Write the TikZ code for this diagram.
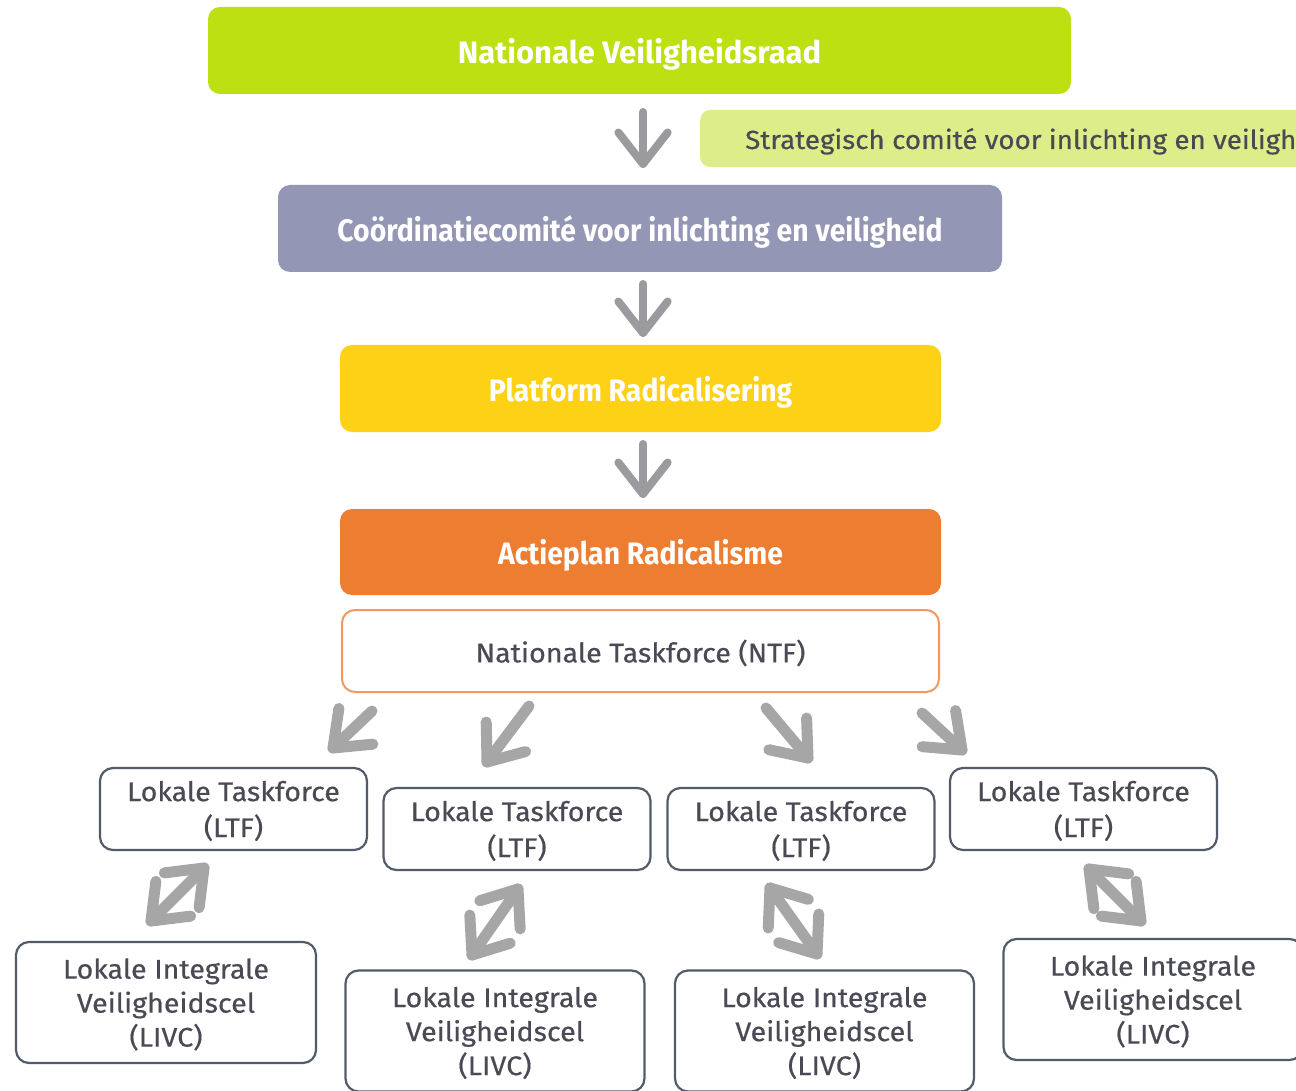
\documentclass[tikz,border=0pt]{standalone}
\usepackage{fontspec}
\setmainfont{Fira Sans}
\newfontfamily\bodyf{Fira Sans}[FakeStretch=1.06, FakeBold=0.5]
\newfontfamily\titlef{Fira Sans}[FakeStretch=0.915]
\newfontfamily\titlefw{Fira Sans}[FakeStretch=1.0]
\usetikzlibrary{calc}
\definecolor{cLime}{HTML}{BDE013}
\definecolor{cLightLime}{HTML}{DDED8A}
\definecolor{cPurple}{HTML}{9396B4}
\definecolor{cYellow}{HTML}{FCD116}
\definecolor{cOrange}{HTML}{ED7D31}
\definecolor{cOrangeLine}{HTML}{F19A5C}
\definecolor{cText}{HTML}{4A4A55}
\definecolor{cBorder}{HTML}{535B6B}
\definecolor{cArrow}{HTML}{A6A6A6}
\definecolor{cArrowV}{HTML}{9B9A9F}
\newcommand\grhead[3]{% tip, towards, style
  \draw[#3] ($(#1)!40pt!38:(#2)$) -- (#1) -- ($(#1)!40pt!-38:(#2)$);}
\newcommand\grsingle[3]{% tail, tip, style
  \draw[#3] (#1) -- (#2);
  \grhead{#2}{#1}{#3}}
\newcommand\grdouble[3]{% end a, end b, style
  \draw[#3] (#1) -- (#2);
  \grhead{#1}{#2}{#3}
  \grhead{#2}{#1}{#3}}
\begin{document}
\begin{tikzpicture}[x=1pt,y=-1pt,
  bigbox/.style={rectangle, rounded corners=12pt, text=white,
    font=\titlef\bfseries\fontsize{31}{36}\selectfont, inner sep=0pt,
    text depth=0pt, minimum height=87pt},
  smallbox/.style={rectangle, rounded corners=13pt, draw=cBorder, line width=2.2pt,
    fill=white, text=cText, align=center, inner sep=0pt, text depth=0pt,
    font=\bodyf\fontsize{27}{36}\selectfont},
  livcbox/.style={smallbox, minimum width=299pt, minimum height=121pt,
    font=\bodyf\fontsize{27}{34}\selectfont},
  ltfbox/.style={smallbox, minimum width=267pt, minimum height=82pt},
  arrowV/.style={draw=cArrowV, line width=8pt, line cap=round, line join=round},
  arrowD/.style={draw=cArrow, line width=11pt, line cap=round, line join=round}]
\useasboundingbox (0,0) rectangle (1296,1091);
\clip (0,0) rectangle (1296,1091);
\fill[white] (0,0) rectangle (1296,1091);

% main column
\node[bigbox, fill=cLime, minimum width=863pt, font=\titlefw\bfseries\fontsize{31}{36}\selectfont] (nvr) at (639.5,50.5) {Nationale Veiligheidsraad};
\node[rectangle, rounded corners=10pt, fill=cLightLime, anchor=west, minimum height=57pt,
  inner xsep=45pt, inner ysep=0pt, text depth=0pt, text=cText, font=\bodyf\fontsize{26.2}{34}\selectfont] (scv) at (700,138.5)
  {Strategisch comité voor inlichting en veiligheid};
\node[bigbox, fill=cPurple, minimum width=724pt] (cci) at (640,228.5) {Coördinatiecomité voor inlichting en veiligheid};
\node[bigbox, fill=cYellow, minimum width=601pt] (plat) at (640.5,388.5) {Platform Radicalisering};
\node[bigbox, fill=cOrange, minimum width=601pt, minimum height=86pt] (act) at (640.5,552) {Actieplan Radicalisme};
\node[rectangle, rounded corners=13pt, draw=cOrangeLine, line width=2pt, text=cText,
  minimum width=597pt, minimum height=82pt, inner sep=0pt, text depth=0pt,
  font=\bodyf\fontsize{27}{34}\selectfont] (ntf) at (640.5,651) {Nationale Taskforce (NTF)};

% local task forces
\node[ltfbox] (ltf1) at (233.5,809) {Lokale Taskforce\\(LTF)};
\node[ltfbox] (ltf2) at (517,829) {Lokale Taskforce\\(LTF)};
\node[ltfbox] (ltf3) at (801,829) {Lokale Taskforce\\(LTF)};
\node[ltfbox] (ltf4) at (1083.5,809) {Lokale Taskforce\\(LTF)};

% LIVC
\node[livcbox, minimum width=300pt] (livc1) at (166,1002.5) {Lokale Integrale\\Veiligheidscel\\(LIVC)};
\node[livcbox] (livc2) at (495,1031) {Lokale Integrale\\Veiligheidscel\\(LIVC)};
\node[livcbox] (livc3) at (824.5,1031) {Lokale Integrale\\Veiligheidscel\\(LIVC)};
\node[livcbox] (livc4) at (1153,999.5) {Lokale Integrale\\Veiligheidscel\\(LIVC)};

% vertical arrows
\coordinate (v1t) at (643,112); \coordinate (v1h) at (643,164);
\coordinate (v2t) at (643,284); \coordinate (v2h) at (643,333);
\coordinate (v3t) at (643,444); \coordinate (v3h) at (643,494);
\grsingle{v1t}{v1h}{arrowV}
\grsingle{v2t}{v2h}{arrowV}
\grsingle{v3t}{v3h}{arrowV}

% diagonal arrows from NTF
\coordinate (a1t) at (372,711); \coordinate (a1h) at (333,748);
\coordinate (a2t) at (529,706); \coordinate (a2h) at (487,762);
\coordinate (a3t) at (766,708); \coordinate (a3h) at (808,758);
\coordinate (a4t) at (922,713); \coordinate (a4h) at (962,750);
\grsingle{a1t}{a1h}{arrowD}
\grsingle{a2t}{a2h}{arrowD}
\grsingle{a3t}{a3h}{arrowD}
\grsingle{a4t}{a4h}{arrowD}

% double arrows LTF <-> LIVC
\coordinate (b1a) at (204,868); \coordinate (b1b) at (151,921);
\coordinate (b2a) at (518,889); \coordinate (b2b) at (472,955);
\coordinate (b3a) at (770,888); \coordinate (b3b) at (817,954);
\coordinate (b4a) at (1089,869); \coordinate (b4b) at (1141,921);
\grdouble{b1a}{b1b}{arrowD}
\grdouble{b2a}{b2b}{arrowD}
\grdouble{b3a}{b3b}{arrowD}
\grdouble{b4a}{b4b}{arrowD}
\end{tikzpicture}
\end{document}
